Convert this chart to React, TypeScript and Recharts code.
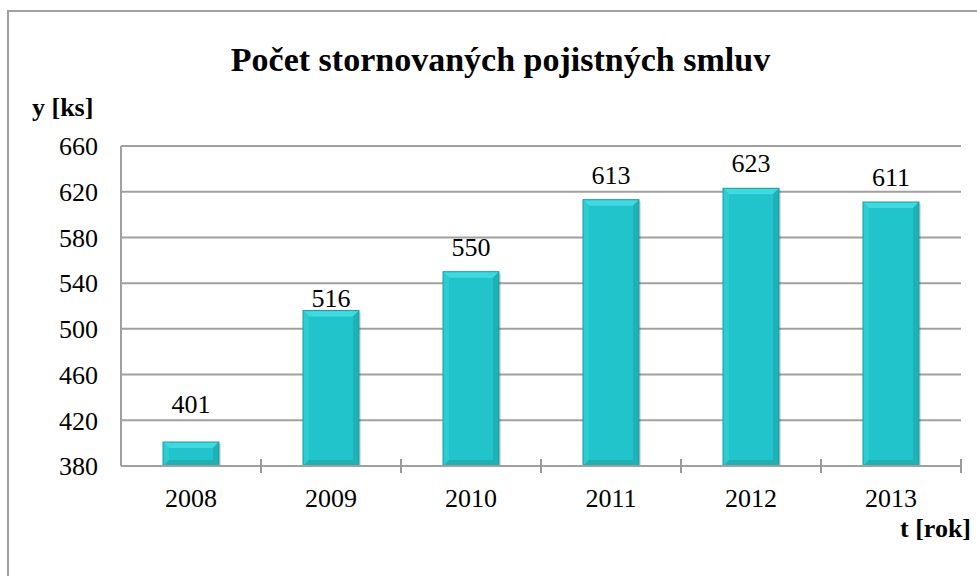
import { Bar, BarChart, CartesianGrid, LabelList, XAxis, YAxis } from 'recharts';

const years = ['2008', '2009', '2010', '2011', '2012', '2013'];
const counts = [401, 516, 550, 613, 623, 611];
const yTicks = [380, 420, 460, 500, 540, 580, 620, 660];

const FONT = 'Liberation Serif';
const Y_MIN = 380;
const Y_STEP = 40;

const BevelBar = (props: any) => {
  const { x, y, width, height } = props;
  if (!height || height <= 0) return null;
  const b = Math.min(6, height / 3);
  return (
    <g>
      <rect x={x + 2} y={y + 2} width={width} height={height} fill='#000' opacity={0.12} />
      <rect x={x} y={y} width={width} height={height} fill='#22c4cb' />
      <polygon points={`${x},${y} ${x + width},${y} ${x + width - b},${y + b} ${x + b},${y + b}`} fill='#3fd9df' />
      <polygon points={`${x},${y} ${x + b},${y + b} ${x + b},${y + height - b} ${x},${y + height}`} fill='#2bcdd3' />
      <polygon points={`${x + width},${y} ${x + width - b},${y + b} ${x + width - b},${y + height - b} ${x + width},${y + height}`} fill='#1eb1b7' />
      <polygon points={`${x},${y + height} ${x + b},${y + height - b} ${x + width - b},${y + height - b} ${x + width},${y + height}`} fill='#1fb0b6' />
      <rect x={x} y={y} width={width} height={height} fill='none' stroke='#1b9ba1' strokeWidth={1} />
    </g>
  );
};

// value label above the bar; moved off a gridline when the line would cut through it
const ValueLabel = (props: any) => {
  const { x, y, width, height, value } = props;
  const k = height / (value - Y_MIN);
  let base = y - 16;
  const next = Math.floor((value - Y_MIN) / Y_STEP + 1) * Y_STEP + Y_MIN;
  const gy = y + height - (next - Y_MIN) * k;
  if (gy > base - 15 && gy < base - 3) {
    base = y - gy >= 24 ? y - 4 : gy - 7;
  }
  return (
    <text x={x + width / 2} y={base} textAnchor='middle' fontFamily={FONT} fontSize={26} fill='#000'>
      {value}
    </text>
  );
};

const YearTick = (props: any) => {
  const { x, y, payload } = props;
  const off = payload && payload.offset ? payload.offset : 70;
  return (
    <g>
      <line x1={x + off} y1={y - 7} x2={x + off} y2={y + 7} stroke='#999' strokeWidth={2} />
      <text x={x} y={y + 41} textAnchor='middle' fontFamily={FONT} fontSize={26} fill='#000'>
        {payload.value}
      </text>
    </g>
  );
};

const App = () => {
  const data = years.map((year, i) => ({ year, value: counts[i] }));

  return (
    <div style={{ position: 'absolute', left: 0, top: 0, width: 977, height: 576, overflow: 'hidden', background: '#fff' }}>
      <div style={{ position: 'absolute', left: 7, top: 10, width: 1100, height: 700, border: '2px solid #a0a0a0' }} />
      <div style={{ position: 'absolute', left: 0, top: 41, width: 1001, textAlign: 'center', fontFamily: FONT, fontWeight: 'bold', fontSize: 34 }}>
        Počet stornovaných pojistných smluv
      </div>
      <div style={{ position: 'absolute', left: 32, top: 93, fontFamily: FONT, fontWeight: 'bold', fontSize: 26 }}>y [ks]</div>
      <div style={{ position: 'absolute', left: 900, top: 514, fontFamily: FONT, fontWeight: 'bold', fontSize: 26 }}>t [rok]</div>
      <div style={{ position: 'absolute', left: 0, top: 0 }}>
        <BarChart width={977} height={576} data={data} margin={{ top: 146, right: 16, bottom: 70, left: 0 }} barCategoryGap='30%'>
          <CartesianGrid horizontal vertical={false} stroke='#a0a0a0' strokeWidth={2} />
          <XAxis dataKey='year' height={40} axisLine={{ stroke: '#a0a0a0', strokeWidth: 2 }} tickLine={false} tickSize={0} tickMargin={0} interval={0} tick={<YearTick />} />
          <YAxis
            domain={[380, 660]}
            ticks={yTicks}
            width={121}
            axisLine={{ stroke: '#a0a0a0', strokeWidth: 2 }}
            tickLine={false}
            tickSize={0}
            tickMargin={23}
            tick={{ fontFamily: FONT, fontSize: 26, fill: '#000' }}
            allowDataOverflow
          />
          <Bar dataKey='value' shape={<BevelBar />} isAnimationActive={false}>
            <LabelList dataKey='value' content={<ValueLabel />} />
          </Bar>
        </BarChart>
      </div>
    </div>
  );
};

export default App;
